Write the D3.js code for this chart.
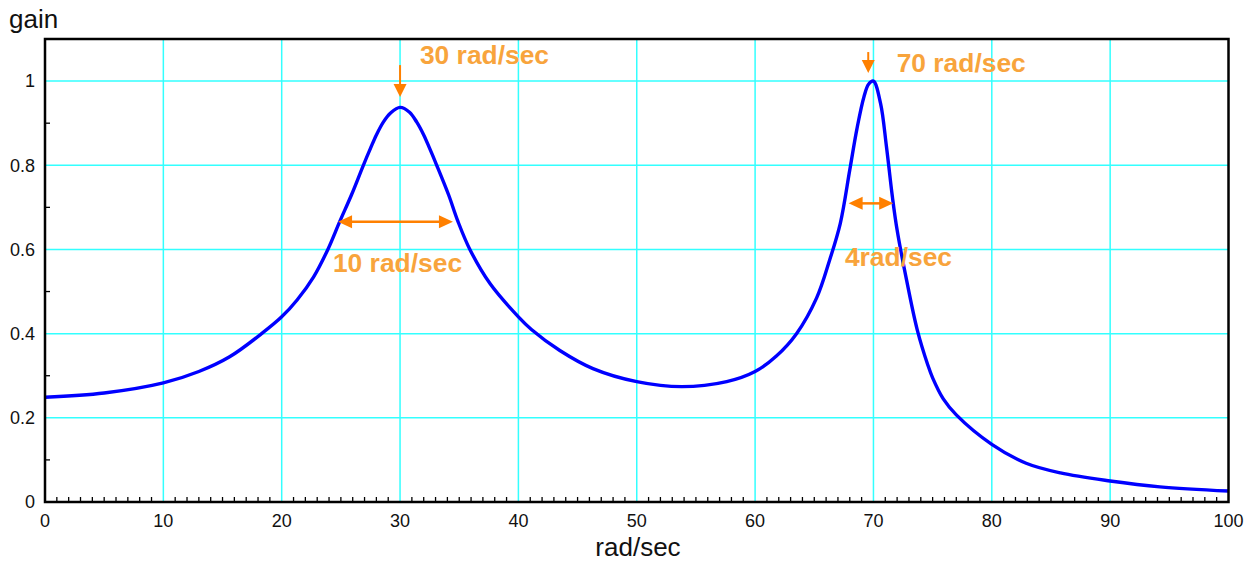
<!DOCTYPE html>
<html>
<head>
<meta charset="UTF-8">
<title>gain vs rad/sec</title>
<style>
    body {
        margin: 0;
        padding: 0;
        background-color: #fff;
    }
    svg text {
        font-family: "Liberation Sans", Arial, Helvetica, sans-serif;
    }
    .tick-label {
        font-size: 18px;
        fill: #111;
    }
    .axis-title {
        font-size: 26px;
        fill: #111;
    }
    .note {
        font-size: 26.4px;
        font-weight: bold;
        fill: #f8a43c;
    }
</style>
</head>
<body>
<svg id="chart" width="1258" height="564"></svg>

<script src="https://d3js.org/d3.v7.min.js"></script>
<script>
    // 曲线数据
    var freq = [0, 5, 10, 13, 15.6, 18.3, 20, 21.3, 22.7, 23.9, 24.9, 25.9, 26.9, 27.5, 28, 28.6, 29.2, 30,
                30.8, 31.4, 32, 32.5, 33.1, 34.1, 34.9, 35.9, 37.6, 40, 41.1, 43.5, 46.3, 50, 53.8, 57.6, 60,
                61.8, 63.5, 65.2, 66.3, 67.2, 68, 68.6, 69.2, 69.6, 70, 70.6, 71.1, 71.6, 72, 72.8, 73.7,
                74.6, 75, 75.9, 77, 80, 82.9, 85.8, 90, 94.2, 100];
    var gain = [0.249, 0.259, 0.283, 0.31, 0.345, 0.40, 0.44, 0.48, 0.535, 0.60, 0.666, 0.73, 0.80, 0.84, 0.872, 0.903, 0.924, 0.9375,
                0.926, 0.903, 0.872, 0.84, 0.80, 0.73, 0.666, 0.60, 0.519, 0.44, 0.41, 0.36, 0.317, 0.286, 0.274, 0.286, 0.31,
                0.347, 0.40, 0.485, 0.575, 0.662, 0.789, 0.886, 0.963, 0.993, 1.0, 0.947, 0.844, 0.725, 0.646, 0.527, 0.409,
                0.325, 0.295, 0.245, 0.207, 0.137, 0.092, 0.069, 0.05, 0.036, 0.026];

    // 刻度
    var xMajor = [0, 10, 20, 30, 40, 50, 60, 70, 80, 90, 100];
    var yMajor = [0, 0.2, 0.4, 0.6, 0.8, 1];
    var yLabels = ["0", "0.2", "0.4", "0.6", "0.8", "1"];

    // 注释
    var downArrows = [{x: 30, y0: 1.038, y1: 0.962}, {x: 69.56, y0: 1.069, y1: 1.019}];
    var spanArrows = [{x0: 24.76, x1: 34.47, y: 0.666}, {x0: 67.9, x1: 71.67, y: 0.7095}];
    var notes = [
        {text: "30 rad/sec", x: 31.68, y: 1.040},
        {text: "10 rad/sec", x: 24.33, y: 0.546},
        {text: "70 rad/sec", x: 71.96, y: 1.021},
        {text: "4rad/sec", x: 67.59, y: 0.5606}
    ];

    var margin = {left: 45, right: 29.5, top: 39, bottom: 62};
    var W = 1258, H = 564;
    var svg = d3.select("#chart");

    var xScale = d3.scaleLinear().domain([0, 100]).range([margin.left, W - margin.right]);
    var yScale = d3.scaleLinear().domain([0, 1.1]).range([H - margin.bottom, margin.top]);

    // 网格线
    svg.append("g").selectAll("line").data(xMajor.slice(1, -1)).enter().append("line")
        .attr("x1", d => xScale(d)).attr("x2", d => xScale(d))
        .attr("y1", yScale(0)).attr("y2", yScale(1.1))
        .attr("stroke", "#33ffff").attr("stroke-width", 1.5);
    svg.append("g").selectAll("line").data(yMajor.slice(1)).enter().append("line")
        .attr("x1", xScale(0)).attr("x2", xScale(100))
        .attr("y1", d => yScale(d)).attr("y2", d => yScale(d))
        .attr("stroke", "#33ffff").attr("stroke-width", 1.5);

    // 小刻度
    var xMinor = d3.range(1, 100).filter(d => d % 10 !== 0);
    svg.append("g").selectAll("line").data(xMinor).enter().append("line")
        .attr("x1", d => xScale(d)).attr("x2", d => xScale(d))
        .attr("y1", yScale(0)).attr("y2", yScale(0) - 5)
        .attr("stroke", "#000").attr("stroke-width", 1.3);
    var yMinor = [0.1, 0.3, 0.5, 0.7, 0.9];
    svg.append("g").selectAll("line").data(yMinor).enter().append("line")
        .attr("x1", xScale(0)).attr("x2", xScale(0) + 5)
        .attr("y1", d => yScale(d)).attr("y2", d => yScale(d))
        .attr("stroke", "#000").attr("stroke-width", 1.3);

    // 曲线
    var line = d3.line()
        .x((d, i) => xScale(freq[i]))
        .y(d => yScale(d))
        .curve(d3.curveCatmullRom.alpha(0.5));
    svg.append("path")
        .datum(gain)
        .attr("d", line)
        .attr("fill", "none")
        .attr("stroke", "#0000ff")
        .attr("stroke-width", 3.4)
        .attr("stroke-linejoin", "round");

    // 边框
    svg.append("rect")
        .attr("x", xScale(0)).attr("y", yScale(1.1))
        .attr("width", xScale(100) - xScale(0))
        .attr("height", yScale(0) - yScale(1.1))
        .attr("fill", "none").attr("stroke", "#000").attr("stroke-width", 2.5);

    // 刻度标签
    svg.append("g").selectAll("text").data(xMajor).enter().append("text")
        .attr("class", "tick-label")
        .attr("x", d => xScale(d)).attr("y", yScale(0) + 25)
        .attr("text-anchor", "middle")
        .text(d => d);
    svg.append("g").selectAll("text").data(yMajor).enter().append("text")
        .attr("class", "tick-label")
        .attr("x", xScale(0) - 10).attr("y", d => yScale(d))
        .attr("dy", "0.35em")
        .attr("text-anchor", "end")
        .text((d, i) => yLabels[i]);

    // 轴标题
    svg.append("text").attr("class", "axis-title")
        .attr("x", 9).attr("y", 28).text("gain");
    svg.append("text").attr("class", "axis-title")
        .attr("x", 638).attr("y", 556)
        .attr("text-anchor", "middle").text("rad/sec");

    // 箭头
    var orange = "#ff8000";
    downArrows.forEach(function(a) {
        var x = xScale(a.x), ya = yScale(a.y0), yb = yScale(a.y1);
        svg.append("line").attr("x1", x).attr("x2", x).attr("y1", ya).attr("y2", yb - 10)
            .attr("stroke", orange).attr("stroke-width", 2);
        svg.append("path")
            .attr("d", "M" + (x - 6.5) + "," + (yb - 13) + "L" + (x + 6.5) + "," + (yb - 13) + "L" + x + "," + yb + "Z")
            .attr("fill", orange);
    });
    spanArrows.forEach(function(a) {
        var xa = xScale(a.x0), xb = xScale(a.x1), y = yScale(a.y);
        svg.append("line").attr("x1", xa + 10).attr("x2", xb - 10).attr("y1", y).attr("y2", y)
            .attr("stroke", orange).attr("stroke-width", 2.5);
        svg.append("path")
            .attr("d", "M" + xa + "," + y + "L" + (xa + 14) + "," + (y - 6.5) + "L" + (xa + 14) + "," + (y + 6.5) + "Z")
            .attr("fill", orange);
        svg.append("path")
            .attr("d", "M" + xb + "," + y + "L" + (xb - 14) + "," + (y - 6.5) + "L" + (xb - 14) + "," + (y + 6.5) + "Z")
            .attr("fill", orange);
    });

    svg.append("g").selectAll("text").data(notes).enter().append("text")
        .attr("class", "note")
        .attr("x", d => xScale(d.x)).attr("y", d => yScale(d.y))
        .text(d => d.text);
</script>
</body>
</html>
